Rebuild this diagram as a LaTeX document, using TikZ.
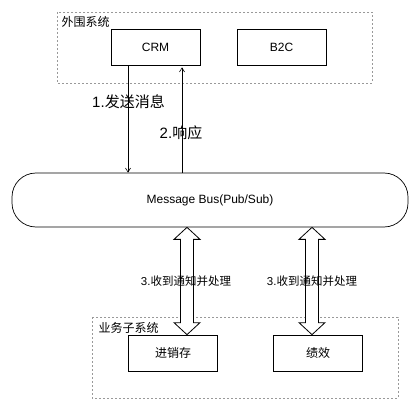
\documentclass[tikz,border=0pt]{standalone}
\usepackage{fontspec}
\setmainfont{Liberation Sans}
\newfontfamily\cjk{Noto Sans CJK SC}
\usetikzlibrary{arrows.meta}

\tikzset{
  sysbox/.style={draw=gray!80, dashed, dash pattern=on 2pt off 2pt, line width=0.5pt},
  appbox/.style={draw, line width=0.7pt, minimum width=89pt, minimum height=36pt,
    inner sep=0pt, font=\fontsize{12}{14}\selectfont},
  msgarrow/.style={-{Straight Barb[length=4pt,width=5pt]}, line width=0.6pt},
  hollow/.style={draw, fill=white, line width=0.8pt, line join=miter},
  steplabel/.style={font=\fontsize{11.5}{13}\selectfont}
}

\begin{document}
\begin{tikzpicture}[x=1pt, y=-1pt]
  \useasboundingbox (0,0) rectangle (418,409);

  % ====== OUTER SYSTEMS ======
  \draw[sysbox] (57,12) rectangle (372,83);
  \node[anchor=west, font=\fontsize{12}{14}\selectfont\cjk] (outer) at (58,22) {外围系统};
  \node[appbox] (crm) at (155.5,47) {CRM};
  \node[appbox] (btoc) at (281.5,47) {B2C};

  % ====== MESSAGE BUS ======
  \node[draw, line width=0.7pt, rounded corners=24pt, minimum width=396pt,
    minimum height=54pt, font=\fontsize{12}{14}\selectfont] (bus) at (210,200)
    {Message Bus(Pub/Sub)};

  % Send and reply
  \draw[msgarrow] ([xshift=-27.5pt]crm.south) -- ([xshift=-27.5pt]crm.south |- bus.north);
  \draw[msgarrow] ([xshift=26.5pt]crm.south |- bus.north) -- ([xshift=26.5pt,yshift=-2pt]crm.south);
  \node[font=\fontsize{15}{17}\selectfont] (send) at (128.5,102) {1.{\cjk 发送消息}};
  \node[font=\fontsize{15}{17}\selectfont] (reply) at (181,133) {2.{\cjk 响应}};

  % ====== BUSINESS SUBSYSTEMS ======
  \draw[sysbox] (92,317) rectangle (398,398);
  \node[anchor=west, font=\fontsize{12}{14}\selectfont\cjk] (inner) at (95,328) {业务子系统};
  \node[appbox, font=\fontsize{12}{14}\selectfont\cjk] (stock) at (173,353) {进销存};
  \node[appbox, font=\fontsize{12}{14}\selectfont\cjk] (perf) at (318,353) {绩效};

  % Notifications (hollow double arrows)
  \coordinate (tA) at ([xshift=-23pt]bus.south);
  \coordinate (bA) at (tA |- stock.north);
  \coordinate (tB) at ([xshift=102pt]bus.south);
  \coordinate (bB) at (tB |- perf.north);
  \foreach \t/\b in {tA/bA, tB/bB} {
    \draw[hollow] (\t) -- ++(13,12) -- ++(-6.5,0) -- ([shift={(6.5,-12)}]\b)
      -- ++(6.5,0) -- (\b) -- ++(-13,-12) -- ++(6.5,0)
      -- ([shift={(-6.5,12)}]\t) -- ++(-6.5,0) -- cycle;
  }
  \node[steplabel] (noteA) at (186,281) {3.{\cjk 收到通知并处理}};
  \node[steplabel] (noteB) at (312,281) {3.{\cjk 收到通知并处理}};

\end{tikzpicture}
\end{document}
